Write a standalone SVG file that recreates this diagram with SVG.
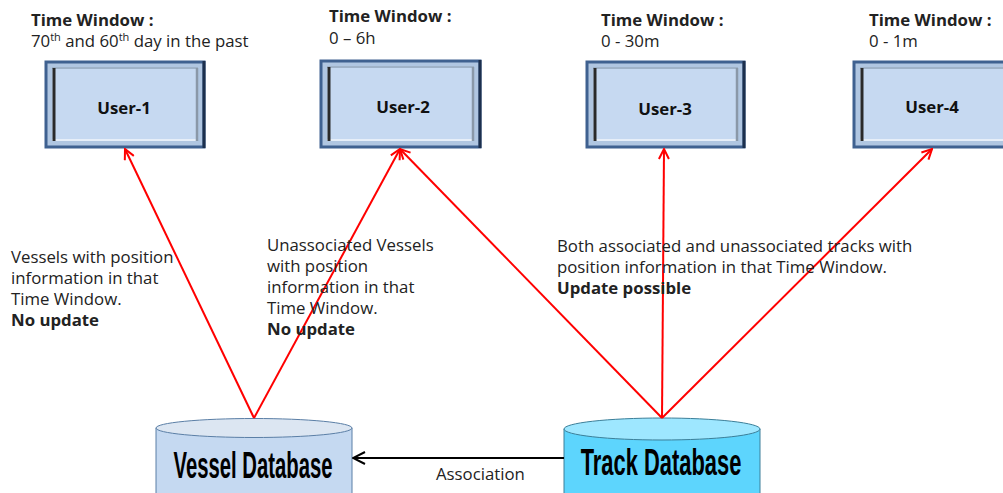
<svg xmlns="http://www.w3.org/2000/svg" width="1003" height="493" viewBox="0 0 1003 493">
<defs>
<style>
.t{font-family:"Open Sans","Liberation Sans",sans-serif;font-size:16.8px;fill:#222}
.b{font-weight:bold}
.u{font-family:"Open Sans","Liberation Sans",sans-serif;font-size:16.8px;font-weight:bold;fill:#111;text-anchor:middle}
.outer{fill:#b0c6e1;stroke:#3f6190;stroke-width:3}
.inner{fill:#c6d9f1;stroke:none}
.tp{stroke:#9fb2c8;stroke-width:2}
.bt{stroke:#e6eef8;stroke-width:2}
.dk{stroke:#2a2a2a;stroke-width:3}
.gr{stroke:#8a98a8;stroke-width:2.5}
.nv{stroke:#1c2f4d;stroke-width:3}
.red{stroke:#ff0000;stroke-width:2;fill:none;marker-end:url(#ra)}
.db{font-family:"Liberation Sans",sans-serif;font-size:37px;font-weight:bold;fill:#000;text-anchor:middle}
</style>
<marker id="ra" viewBox="0 0 12 12" refX="11" refY="6" markerWidth="12" markerHeight="12" markerUnits="userSpaceOnUse" orient="auto">
<path d="M1,1 L11,6 L1,11" fill="none" stroke="#ff0000" stroke-width="2"/>
</marker>
<marker id="ka" viewBox="0 0 14 14" refX="13" refY="7" markerWidth="14" markerHeight="14" markerUnits="userSpaceOnUse" orient="auto">
<path d="M1,1 L13,7 L1,13" fill="none" stroke="#000" stroke-width="2"/>
</marker>
</defs>

<g id="user1">
<rect class="outer" x="46" y="62" width="158" height="85"/>
<line class="nv" x1="204" y1="61" x2="204" y2="148"/>
<rect class="inner" x="52" y="68" width="146" height="73"/>
<line class="tp" x1="52" y1="68" x2="198" y2="68"/>
<line class="bt" x1="52" y1="140" x2="198" y2="140"/>
<line class="dk" x1="54" y1="68" x2="54" y2="141"/>
<line class="gr" x1="197" y1="68" x2="197" y2="141"/>
<text class="u" x="124" y="114">User-1</text>
<text class="t b" x="31" y="26">Time Window :</text>
<text class="t" x="31" y="47">70<tspan font-size="11" dy="-6">th</tspan><tspan dy="6"> and 60</tspan><tspan font-size="11" dy="-6">th</tspan><tspan dy="6"> day in the past</tspan></text>
</g>

<g id="user2">
<rect class="outer" x="321" y="61" width="159" height="86"/>
<line class="nv" x1="480" y1="60" x2="480" y2="148"/>
<rect class="inner" x="327" y="67" width="147" height="74"/>
<line class="tp" x1="327" y1="67" x2="474" y2="67"/>
<line class="bt" x1="327" y1="140" x2="474" y2="140"/>
<line class="dk" x1="329" y1="67" x2="329" y2="141"/>
<line class="gr" x1="473" y1="67" x2="473" y2="141"/>
<text class="u" x="403" y="113">User-2</text>
<text class="t b" x="329" y="22">Time Window :</text>
<text class="t" x="329" y="44">0 – 6h</text>
</g>

<g id="user3">
<rect class="outer" x="587" y="62" width="157" height="85"/>
<line class="nv" x1="744" y1="61" x2="744" y2="148"/>
<rect class="inner" x="593" y="68" width="145" height="73"/>
<line class="tp" x1="593" y1="68" x2="738" y2="68"/>
<line class="bt" x1="593" y1="140" x2="738" y2="140"/>
<line class="dk" x1="595" y1="68" x2="595" y2="141"/>
<line class="gr" x1="737" y1="68" x2="737" y2="141"/>
<text class="u" x="665" y="115">User-3</text>
<text class="t b" x="601" y="26">Time Window :</text>
<text class="t" x="601" y="47">0 - 30m</text>
</g>

<g id="user4">
<rect class="outer" x="854" y="62" width="160" height="85"/>
<rect class="inner" x="860" y="68" width="148" height="73"/>
<line class="tp" x1="860" y1="68" x2="1008" y2="68"/>
<line class="bt" x1="860" y1="140" x2="1008" y2="140"/>
<line class="dk" x1="862" y1="68" x2="862" y2="141"/>
<text class="u" x="932" y="113">User-4</text>
<text class="t b" x="869" y="26">Time Window :</text>
<text class="t" x="869" y="47">0 - 1m</text>
</g>

<g id="vesseldb">
<path d="M156,428 L156,500 L352,500 L352,428 Z" fill="#c5d9f1" stroke="#5b7fa6" stroke-width="1"/>
<ellipse cx="254" cy="428" rx="98" ry="9.5" fill="#dce6f2" stroke="#5b7fa6" stroke-width="1"/>
<text class="db" transform="translate(253,478) scale(0.548,1)" x="0" y="0">Vessel Database</text>
</g>

<g id="trackdb">
<path d="M564,429 L564,500 L760,500 L760,429 Z" fill="#5dd5fd" stroke="#3c7f99" stroke-width="1"/>
<ellipse cx="662" cy="429" rx="98" ry="11" fill="#9ee7ff" stroke="#3c7f99" stroke-width="1"/>
<text class="db" transform="translate(661,475) scale(0.592,1)" x="0" y="0">Track Database</text>
</g>

<g id="connectors">
<line class="red" x1="254" y1="418" x2="125" y2="149"/>
<line class="red" x1="254" y1="418" x2="400" y2="149"/>
<line class="red" x1="662" y1="418" x2="400" y2="149"/>
<line class="red" x1="662" y1="418" x2="664" y2="149"/>
<line class="red" x1="662" y1="418" x2="932" y2="149"/>
<line x1="564" y1="458" x2="353" y2="458" stroke="#000" stroke-width="2" marker-end="url(#ka)"/>
<text class="t" x="436" y="480">Association</text>
</g>

<g id="labels">
<text class="t" x="11" y="263">Vessels with position</text>
<text class="t" x="11" y="284">information in that</text>
<text class="t" x="11" y="305">Time Window.</text>
<text class="t b" x="11" y="326">No update</text>
<text class="t" x="267" y="251">Unassociated Vessels</text>
<text class="t" x="267" y="272">with position</text>
<text class="t" x="267" y="293">information in that</text>
<text class="t" x="267" y="314">Time Window.</text>
<text class="t b" x="267" y="335">No update</text>
<text class="t" x="557" y="252">Both associated and unassociated tracks with</text>
<text class="t" x="557" y="273">position information in that Time Window.</text>
<text class="t b" x="557" y="294">Update possible</text>
</g>
</svg>
